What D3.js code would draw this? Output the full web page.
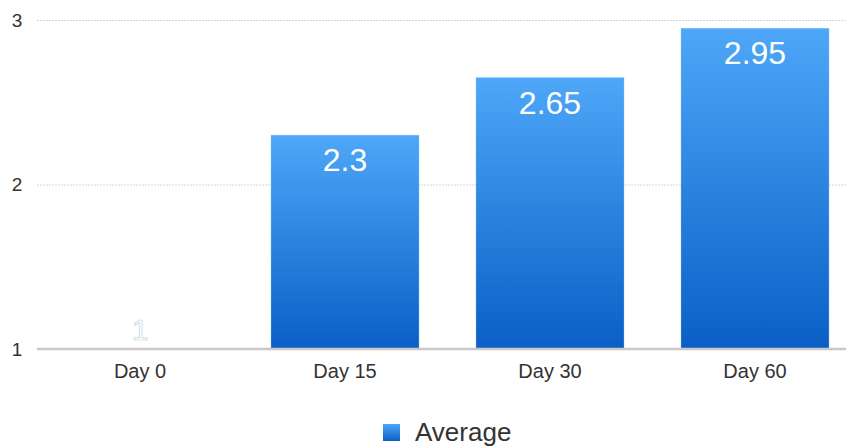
<!DOCTYPE html>
<html><head><meta charset="utf-8">
<script src="https://cdn.jsdelivr.net/npm/d3@7/dist/d3.min.js"></script>
<style>body{margin:0;background:#fff;}svg{display:block;font-family:"Helvetica Neue",Helvetica,"Liberation Sans",Arial,sans-serif;}</style>
</head><body>
<svg id="c" width="846" height="446"></svg>
<script>
const categories = ["Day 0", "Day 15", "Day 30", "Day 60"];
const values = [1, 2.3, 2.65, 2.95];
const valueLabels = ["1", "2.3", "2.65", "2.95"];
const yTicks = [1, 2, 3];
const seriesName = "Average";

const svg = d3.select("#c");
const m = {left: 37, right: 846, top: 20, bottom: 349};
const x = d3.scaleBand().domain(categories).range([37.5, 857.5]).paddingInner(0.278).paddingOuter(0.139);
const y = d3.scaleLinear().domain([1, 3]).range([m.bottom, m.top]);

const defs = svg.append("defs");
const g = defs.append("linearGradient").attr("id", "bg").attr("x1", 0).attr("y1", 0).attr("x2", 0).attr("y2", 1);
g.append("stop").attr("offset", "0%").attr("stop-color", "#4ea7f8");
g.append("stop").attr("offset", "100%").attr("stop-color", "#0a5fc6");

// gridlines
svg.append("g").selectAll("line").data(yTicks.filter(t => t > 1)).join("line")
  .attr("x1", m.left).attr("x2", m.right).attr("y1", d => y(d) + 0.5).attr("y2", d => y(d) + 0.5)
  .attr("stroke", "#d6d6d6").attr("stroke-width", 1).attr("stroke-dasharray", "2,1");

// y tick labels
svg.append("g").selectAll("text").data(yTicks).join("text")
  .attr("x", 17).attr("y", d => y(d)).attr("dy", "0.36em").attr("text-anchor", "middle")
  .attr("font-size", 19).attr("fill", "#333").text(d => d);

// bars
svg.append("g").selectAll("rect").data(values).join("rect")
  .attr("x", (d, i) => x(categories[i])).attr("width", x.bandwidth())
  .attr("y", d => y(d)).attr("height", d => y(1) - y(d))
  .attr("fill", "url(#bg)").attr("stroke", "#8cc4f5").attr("stroke-width", 0.6).attr("stroke-opacity", 0.6);

// baseline
svg.append("line").attr("x1", m.left).attr("x2", m.right).attr("y1", y(1)).attr("y2", y(1))
  .attr("stroke", "#c8c8c8").attr("stroke-width", 2.5);

// value labels
svg.append("g").selectAll("text").data(values).join("text")
  .attr("x", (d, i) => x(categories[i]) + x.bandwidth() / 2)
  .attr("y", d => d === 1 ? y(d) - 9 : y(d) + 36)
  .attr("text-anchor", "middle").attr("font-size", d => d === 1 ? 30 : 32)
  .attr("fill", "#fff")
  .attr("stroke", d => d === 1 ? "#b9d4e4" : "none").attr("stroke-width", d => d === 1 ? 0.7 : 0)
  .text((d, i) => valueLabels[i]);

// x labels
svg.append("g").selectAll("text").data(categories).join("text")
  .attr("x", d => x(d) + x.bandwidth() / 2).attr("y", 378).attr("text-anchor", "middle")
  .attr("font-size", 20).attr("fill", "#333").text(d => d);

// legend
const lg = svg.append("g");
lg.append("rect").attr("x", 383).attr("y", 424).attr("width", 17).attr("height", 17).attr("fill", "url(#bg)");
lg.append("text").attr("x", 415).attr("y", 441).attr("font-size", 26).attr("fill", "#333").text(seriesName);
</script>
</body></html>
